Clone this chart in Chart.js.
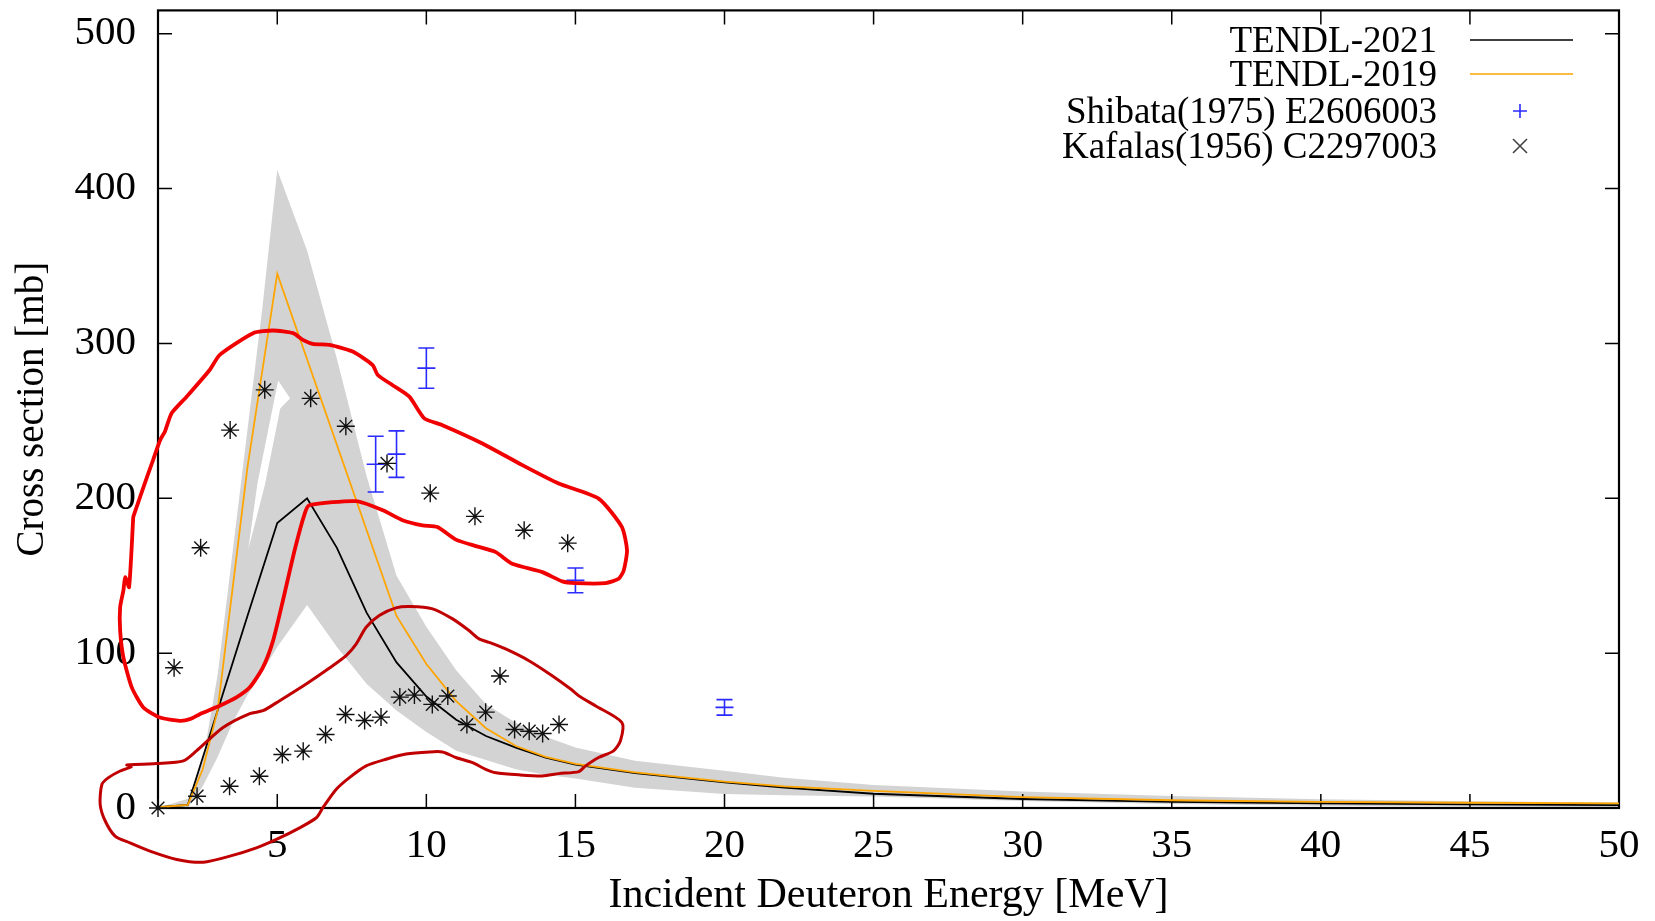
<!DOCTYPE html>
<html>
<head>
<meta charset="utf-8">
<title>Cross section</title>
<script src="https://cdn.jsdelivr.net/npm/chart.js@4.4.1/dist/chart.umd.min.js"></script>
<style>
  body { margin: 0; background: #fff; }
  canvas { display: block; }
</style>
</head>
<body>
<canvas id="myChart" width="1655" height="921"></canvas>
<script>
// TENDL-2021 evaluation
var tendl21E  = [1, 2, 3, 4, 5, 6, 7, 8, 9, 10, 11, 12, 13, 14, 15, 17, 20, 22, 25, 30, 35, 40, 45, 50]
var tendl21XS = [0.5, 2, 63, 124, 184, 200, 168, 126, 94, 72, 57, 46.5, 39, 32.5, 28, 22.5, 16.5, 13.2, 9.2, 5.8, 3.9, 3.0, 2.4, 1.8]

// TENDL-2019 evaluation
var tendl19E  = [1, 2, 2.5, 3, 4, 5, 9, 10, 11, 12, 13, 14, 15, 17, 20, 22, 25, 30, 35, 40, 45, 50]
var tendl19XS = [0.5, 2, 25, 63, 220, 345, 124, 93, 69, 51.5, 40, 33, 28.5, 23, 17, 14, 11, 7, 5, 4, 3.4, 3]

// uncertainty band
var bandE    = [1, 2, 2.5, 3, 3.5, 4, 4.5, 5, 6, 7, 8, 9, 10, 11, 12, 13, 14, 15, 17, 20, 22, 25, 30, 35, 40, 45, 50]
var bandHigh = [0, 6, 30, 86, 165, 244, 323, 412, 360, 290, 214, 150, 117, 89, 67, 55, 46, 39, 30.5, 24, 19.6, 14.8, 10.6, 7.8, 5.6, 4.3, 3.5]
var bandLow  = [0, 0, 14, 33, 55, 73, 88, 104, 131, 104, 80, 63, 49, 37, 31, 25, 21.5, 19, 13, 9, 8.3, 7.5, 4.5, 2.6, 1.4, 0.9, 0.6]

// white gap inside the band near the peak
var gapE  = [5.03, 5.43, 5.1, 4.59, 4.03, 4.33, 5.03]
var gapXS = [276, 264.5, 258, 209, 167, 209, 276]

// Shibata(1975) E2606003
var shibataE   = [8.3, 9.0, 10.0, 15.0, 20.0]
var shibataXS  = [222, 228.5, 284, 147, 65]
var shibataErr = [18, 15, 13, 8, 5]

// Kafalas(1956) C2297003
var kafalasE  = [1.0, 1.54, 2.31, 2.43, 3.40, 3.42, 4.40, 4.58, 5.17, 5.87, 6.12, 6.62, 7.29, 7.30, 7.93, 8.48, 8.68, 9.11, 9.60, 10.13, 10.20, 10.72, 11.36, 11.63, 11.99, 12.47, 12.96, 13.28, 13.45, 13.90, 14.45, 14.74]
var kafalasXS = [0, 90.6, 7.6, 168, 14, 244, 20.5, 270, 34.5, 36.7, 264.5, 47.5, 60.4, 246.5, 56.5, 58.7, 222.5, 71.6, 72.9, 203.3, 66.9, 72.3, 53.9, 188.3, 61.9, 85.2, 50.7, 179.3, 49.6, 48.1, 53.9, 171]

// hand drawn loops (in axis units)
var redLoopE  = [0.17, 0.51, 0.84, 1.07, 1.23, 1.46, 1.96, 2.74, 3.07, 4.19, 4.86, 5.53, 5.86, 6.19, 6.75, 7.53, 8.2, 8.37, 8.87, 9.43, 9.93, 10.54, 11.88, 13.22, 14.44, 15.78, 16.56, 16.73, 16.62, 16.45, 16.01, 15.0, 14.56, 13.89, 12.88, 12.33, 11.66, 10.99, 10.37, 9.87, 9.2, 8.54, 7.65, 6.08, 5.92, 5.58, 5.19, 4.86, 4.52, 4.08, 3.63, 3.07, 2.4, 2.07, 1.74, 1.07, 0.51, 0.12, -0.16, -0.27, -0.27, -0.16, -0.1, 0.03, 0.17]
var redLoopXS = [188, 207, 225, 237.5, 243, 255, 265.6, 283, 292.6, 306.6, 308.3, 306.6, 302.3, 299.7, 299, 294.7, 286, 279.6, 273, 265.6, 251.6, 247.2, 235.4, 221.4, 209.5, 199.8, 181.4, 166.3, 153.4, 148, 145.2, 145.2, 146.3, 152.3, 157.7, 165.2, 169.1, 173.3, 181.4, 182.5, 185.8, 192.2, 198.1, 195.5, 190.1, 166.3, 134, 108.1, 90.8, 77.9, 71.4, 66, 60.6, 57.4, 56.3, 58.4, 64.9, 77.9, 97.3, 114.6, 129.6, 140.5, 149, 142.6, 188]

var darkLoopE  = [-0.05, 0.96, 1.85, 2.29, 3.18, 4.08, 4.52, 5.08, 5.97, 6.75, 7.31, 7.65, 7.98, 8.42, 8.98, 9.45, 10.21, 10.88, 11.43, 11.77, 12.1, 12.66, 13.44, 14.22, 14.84, 15.11, 15.67, 16.56, 16.51, 16.28, 15.78, 15.34, 15.11, 14.44, 13.89, 13.11, 12.33, 11.99, 11.55, 10.99, 10.54, 10.1, 9.32, 8.65, 7.98, 7.42, 6.98, 6.53, 6.31, 5.75, 4.97, 4.3, 3.41, 2.52, 1.63, 0.73, 0.06, -0.44, -0.77, -0.94, -0.88, -0.66, -0.27, 0.1]
var darkLoopXS = [27.8, 28.7, 30.4, 36.9, 52, 61, 62.8, 69.3, 80.1, 90.4, 98.4, 106, 116.7, 124.3, 129.2, 130.1, 128.6, 122.1, 114.6, 109.2, 107, 102.7, 95.1, 85.4, 76.8, 72.5, 66, 55.2, 43.4, 36.9, 32.6, 27.2, 23.5, 22.2, 20.7, 21.4, 22.8, 25, 29.3, 32.6, 36.2, 36.2, 34.8, 31.5, 27.2, 19.6, 12.1, 0.2, -6.3, -12.8, -20.3, -25.7, -31.1, -35, -33.2, -27.8, -22.5, -18.1, -8.4, 2.4, 15.3, 19.6, 23.9, 26.5]

var legendLabels = ["TENDL-2021", "TENDL-2019", "Shibata(1975) E2606003", "Kafalas(1956) C2297003"]

function pts(xs, ys) {
    var out = []
    for (var i = 0; i < xs.length; i++) out.push({x: xs[i], y: ys[i]})
    return out
}

var FONT = '"Liberation Serif", "Times New Roman", serif'
var SHIBATA_IDX = 3
var BAND_IDX = 7

var errorBars = {
    id: 'errorBars',
    afterDatasetDraw: function(chart, args) {
        if (args.index !== SHIBATA_IDX) return
        var ctx = chart.ctx, xs = chart.scales.x, ys = chart.scales.y
        ctx.save()
        ctx.strokeStyle = '#2b2bff'
        ctx.lineWidth = 1.6
        for (var i = 0; i < shibataE.length; i++) {
            var px = xs.getPixelForValue(shibataE[i])
            var lo = ys.getPixelForValue(shibataXS[i] - shibataErr[i])
            var hi = ys.getPixelForValue(shibataXS[i] + shibataErr[i])
            var mid = ys.getPixelForValue(shibataXS[i])
            ctx.beginPath()
            ctx.moveTo(px, lo); ctx.lineTo(px, hi)
            ctx.moveTo(px - 8, lo); ctx.lineTo(px + 8, lo)
            ctx.moveTo(px - 8, hi); ctx.lineTo(px + 8, hi)
            ctx.moveTo(px - 9, mid); ctx.lineTo(px + 9, mid)
            ctx.stroke()
        }
        ctx.restore()
    }
}

var frame = {
    id: 'frame',
    afterDatasetDraw: function(chart, args) {
        if (args.index !== BAND_IDX) return
        var ctx = chart.ctx, a = chart.chartArea
        var xs = chart.scales.x, ys = chart.scales.y
        ctx.save()
        ctx.strokeStyle = '#000'
        ctx.lineWidth = 1.5
        ctx.beginPath()
        xs.ticks.forEach(function(t) {
            var px = xs.getPixelForValue(t.value)
            ctx.moveTo(px, a.bottom); ctx.lineTo(px, a.bottom - 14)
            ctx.moveTo(px, a.top); ctx.lineTo(px, a.top + 14)
        })
        ys.ticks.forEach(function(t) {
            var py = ys.getPixelForValue(t.value)
            ctx.moveTo(a.left, py); ctx.lineTo(a.left + 14, py)
            ctx.moveTo(a.right, py); ctx.lineTo(a.right - 14, py)
        })
        ctx.stroke()
        ctx.lineWidth = 2.2
        ctx.strokeRect(a.left, a.top, a.right - a.left, a.bottom - a.top)
        ctx.restore()
    }
}

var keyBox = {
    id: 'keyBox',
    afterDraw: function(chart) {
        var ctx = chart.ctx
        var rows = [40, 74, 111, 146]
        ctx.save()
        ctx.font = '37px ' + FONT
        ctx.fillStyle = '#000'
        ctx.textAlign = 'right'
        ctx.textBaseline = 'middle'
        for (var i = 0; i < legendLabels.length; i++) {
            ctx.fillText(legendLabels[i], 1437, rows[i] + 2)
        }
        ctx.lineWidth = 1.6
        ctx.strokeStyle = '#000'
        ctx.beginPath(); ctx.moveTo(1470, rows[0]); ctx.lineTo(1573, rows[0]); ctx.stroke()
        ctx.strokeStyle = '#ffa500'
        ctx.beginPath(); ctx.moveTo(1470, rows[1]); ctx.lineTo(1573, rows[1]); ctx.stroke()
        ctx.strokeStyle = '#2b2bff'
        ctx.beginPath()
        ctx.moveTo(1513, rows[2]); ctx.lineTo(1527, rows[2])
        ctx.moveTo(1520, rows[2] - 7); ctx.lineTo(1520, rows[2] + 7)
        ctx.stroke()
        ctx.strokeStyle = '#444'
        ctx.beginPath()
        ctx.moveTo(1513, rows[3] - 7); ctx.lineTo(1527, rows[3] + 7)
        ctx.moveTo(1513, rows[3] + 7); ctx.lineTo(1527, rows[3] - 7)
        ctx.stroke()
        ctx.restore()
    }
}

var ctx = document.getElementById("myChart").getContext('2d')

var chart = new Chart(ctx, {
    type: 'scatter',
    data: {
        datasets: [
            {
                label: 'loop1',
                data: pts(redLoopE, redLoopXS),
                showLine: true,
                borderColor: '#f00000',
                borderWidth: 3.8,
                borderJoinStyle: 'round',
                borderCapStyle: 'round',
                tension: 0.2,
                pointRadius: 0,
                clip: false
            },
            {
                label: 'loop2',
                data: pts(darkLoopE, darkLoopXS),
                showLine: true,
                borderColor: '#c00000',
                borderWidth: 3,
                borderJoinStyle: 'round',
                borderCapStyle: 'round',
                tension: 0.25,
                pointRadius: 0,
                clip: false
            },
            {
                label: legendLabels[3],
                data: pts(kafalasE, kafalasXS),
                pointStyle: 'star',
                pointRadius: 9,
                borderColor: '#111',
                backgroundColor: '#111',
                borderWidth: 1.4,
                clip: false
            },
            {
                label: legendLabels[2],
                data: pts(shibataE, shibataXS),
                pointRadius: 0
            },
            {
                label: legendLabels[1],
                data: pts(tendl19E, tendl19XS),
                showLine: true,
                borderColor: '#ffa500',
                borderWidth: 1.8,
                pointRadius: 0
            },
            {
                label: legendLabels[0],
                data: pts(tendl21E, tendl21XS),
                showLine: true,
                borderColor: '#000',
                borderWidth: 1.8,
                pointRadius: 0
            },
            {
                label: 'band-gap',
                data: pts(gapE, gapXS),
                showLine: true,
                borderColor: 'rgba(0,0,0,0)',
                borderWidth: 0,
                backgroundColor: '#ffffff',
                fill: 'shape',
                pointRadius: 0
            },
            {
                label: 'band-high',
                data: pts(bandE, bandHigh),
                showLine: true,
                borderColor: 'rgba(0,0,0,0)',
                borderWidth: 0,
                backgroundColor: '#d3d3d3',
                fill: '+1',
                pointRadius: 0
            },
            {
                label: 'band-low',
                data: pts(bandE, bandLow),
                showLine: true,
                borderColor: 'rgba(0,0,0,0)',
                borderWidth: 0,
                pointRadius: 0
            }
        ]
    },
    options: {
        responsive: false,
        animation: false,
        devicePixelRatio: 1,
        layout: { padding: { top: 9, right: 36, left: 0, bottom: 0 } },
        plugins: {
            legend: { display: false },
            tooltip: { enabled: false }
        },
        scales: {
            x: {
                type: 'linear',
                min: 1,
                max: 50,
                grid: { display: false, drawTicks: false },
                border: { display: false },
                ticks: {
                    stepSize: 5,
                    includeBounds: false,
                    padding: 14,
                    color: '#000',
                    font: { family: FONT, size: 41 }
                },
                title: {
                    display: true,
                    text: 'Incident Deuteron Energy [MeV]',
                    color: '#000',
                    font: { family: FONT, size: 42 },
                    padding: { top: 0, bottom: 0 }
                },
                afterFit: function(scale) {
                    scale.height = 113
                    scale.paddingLeft = 0
                    scale.paddingRight = 0
                }
            },
            y: {
                type: 'linear',
                min: 0,
                max: 515,
                grid: { display: false, drawTicks: false },
                border: { display: false },
                ticks: {
                    stepSize: 100,
                    includeBounds: false,
                    padding: 22,
                    color: '#000',
                    font: { family: FONT, size: 41 }
                },
                title: {
                    display: true,
                    text: 'Cross section [mb]',
                    color: '#000',
                    font: { family: FONT, size: 39 },
                    padding: { top: 9, bottom: 0 }
                },
                afterFit: function(scale) {
                    scale.width = 158
                    scale.paddingTop = 0
                    scale.paddingBottom = 0
                }
            }
        }
    },
    plugins: [errorBars, frame, keyBox]
})
</script>
</body>
</html>
